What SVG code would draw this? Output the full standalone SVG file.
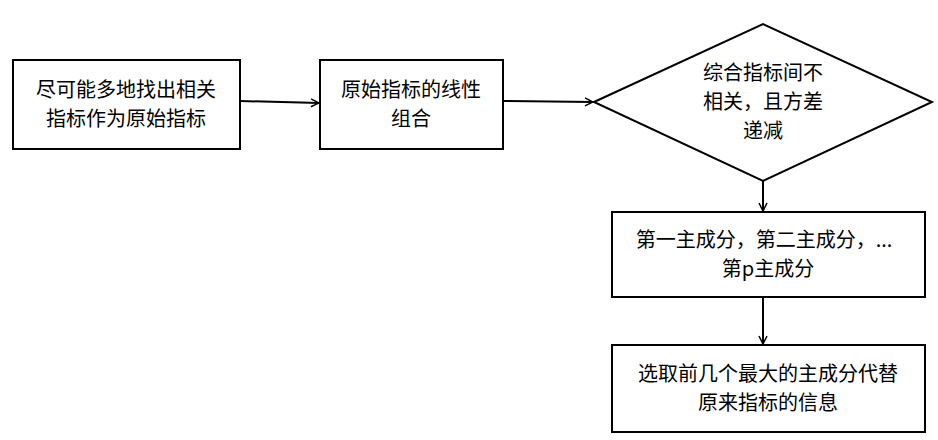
<svg xmlns="http://www.w3.org/2000/svg" width="938" height="440" viewBox="0 0 938 440">
<style>
.n{fill:#fff;stroke:#000;stroke-width:2}
.t{font-family:"Noto Sans CJK SC","Liberation Sans",sans-serif;font-size:20px;fill:#000;text-anchor:middle}
.c{fill:none;stroke:#000;stroke-width:2}
</style>
<defs><marker id="a" viewBox="0 0 10 10" refX="9" refY="5" markerWidth="10" markerHeight="10" markerUnits="userSpaceOnUse" orient="auto"><path d="M1,1 L9,5 L1,9" fill="none" stroke="#000" stroke-width="1.5"/></marker></defs>
<rect width="938" height="440" fill="#fff"/>
<g id="n1"><rect class="n" x="13" y="60" width="227" height="89"/><text class="t" x="126" y="97">尽可能多地找出相关</text><text class="t" x="126" y="126">指标作为原始指标</text></g>
<g id="n2"><rect class="n" x="320" y="60" width="183" height="89"/><text class="t" x="411" y="97">原始指标的线性</text><text class="t" x="411" y="126">组合</text></g>
<g id="n3"><polygon class="n" points="594,102 763,24 932,102 763,181"/><text class="t" x="763" y="80">综合指标间不</text><text class="t" x="763" y="109">相关，且方差</text><text class="t" x="763" y="138">递减</text></g>
<g id="n4"><rect class="n" x="612" y="212" width="313" height="85"/><text class="t" x="764" y="247">第一主成分，第二主成分，...</text><text class="t" x="768" y="276">第p主成分</text></g>
<g id="n5"><rect class="n" x="612" y="345" width="313" height="87"/><text class="t" x="768" y="381">选取前几个最大的主成分代替</text><text class="t" x="768" y="410">原来指标的信息</text></g>
<g id="connectors">
<path class="c" d="M240,101 L319,103" marker-end="url(#a)"/>
<path class="c" d="M503,101 L593,102" marker-end="url(#a)"/>
<path class="c" d="M763,181 L763,211" marker-end="url(#a)"/>
<path class="c" d="M763,297 L763,344" marker-end="url(#a)"/>
</g>
</svg>
